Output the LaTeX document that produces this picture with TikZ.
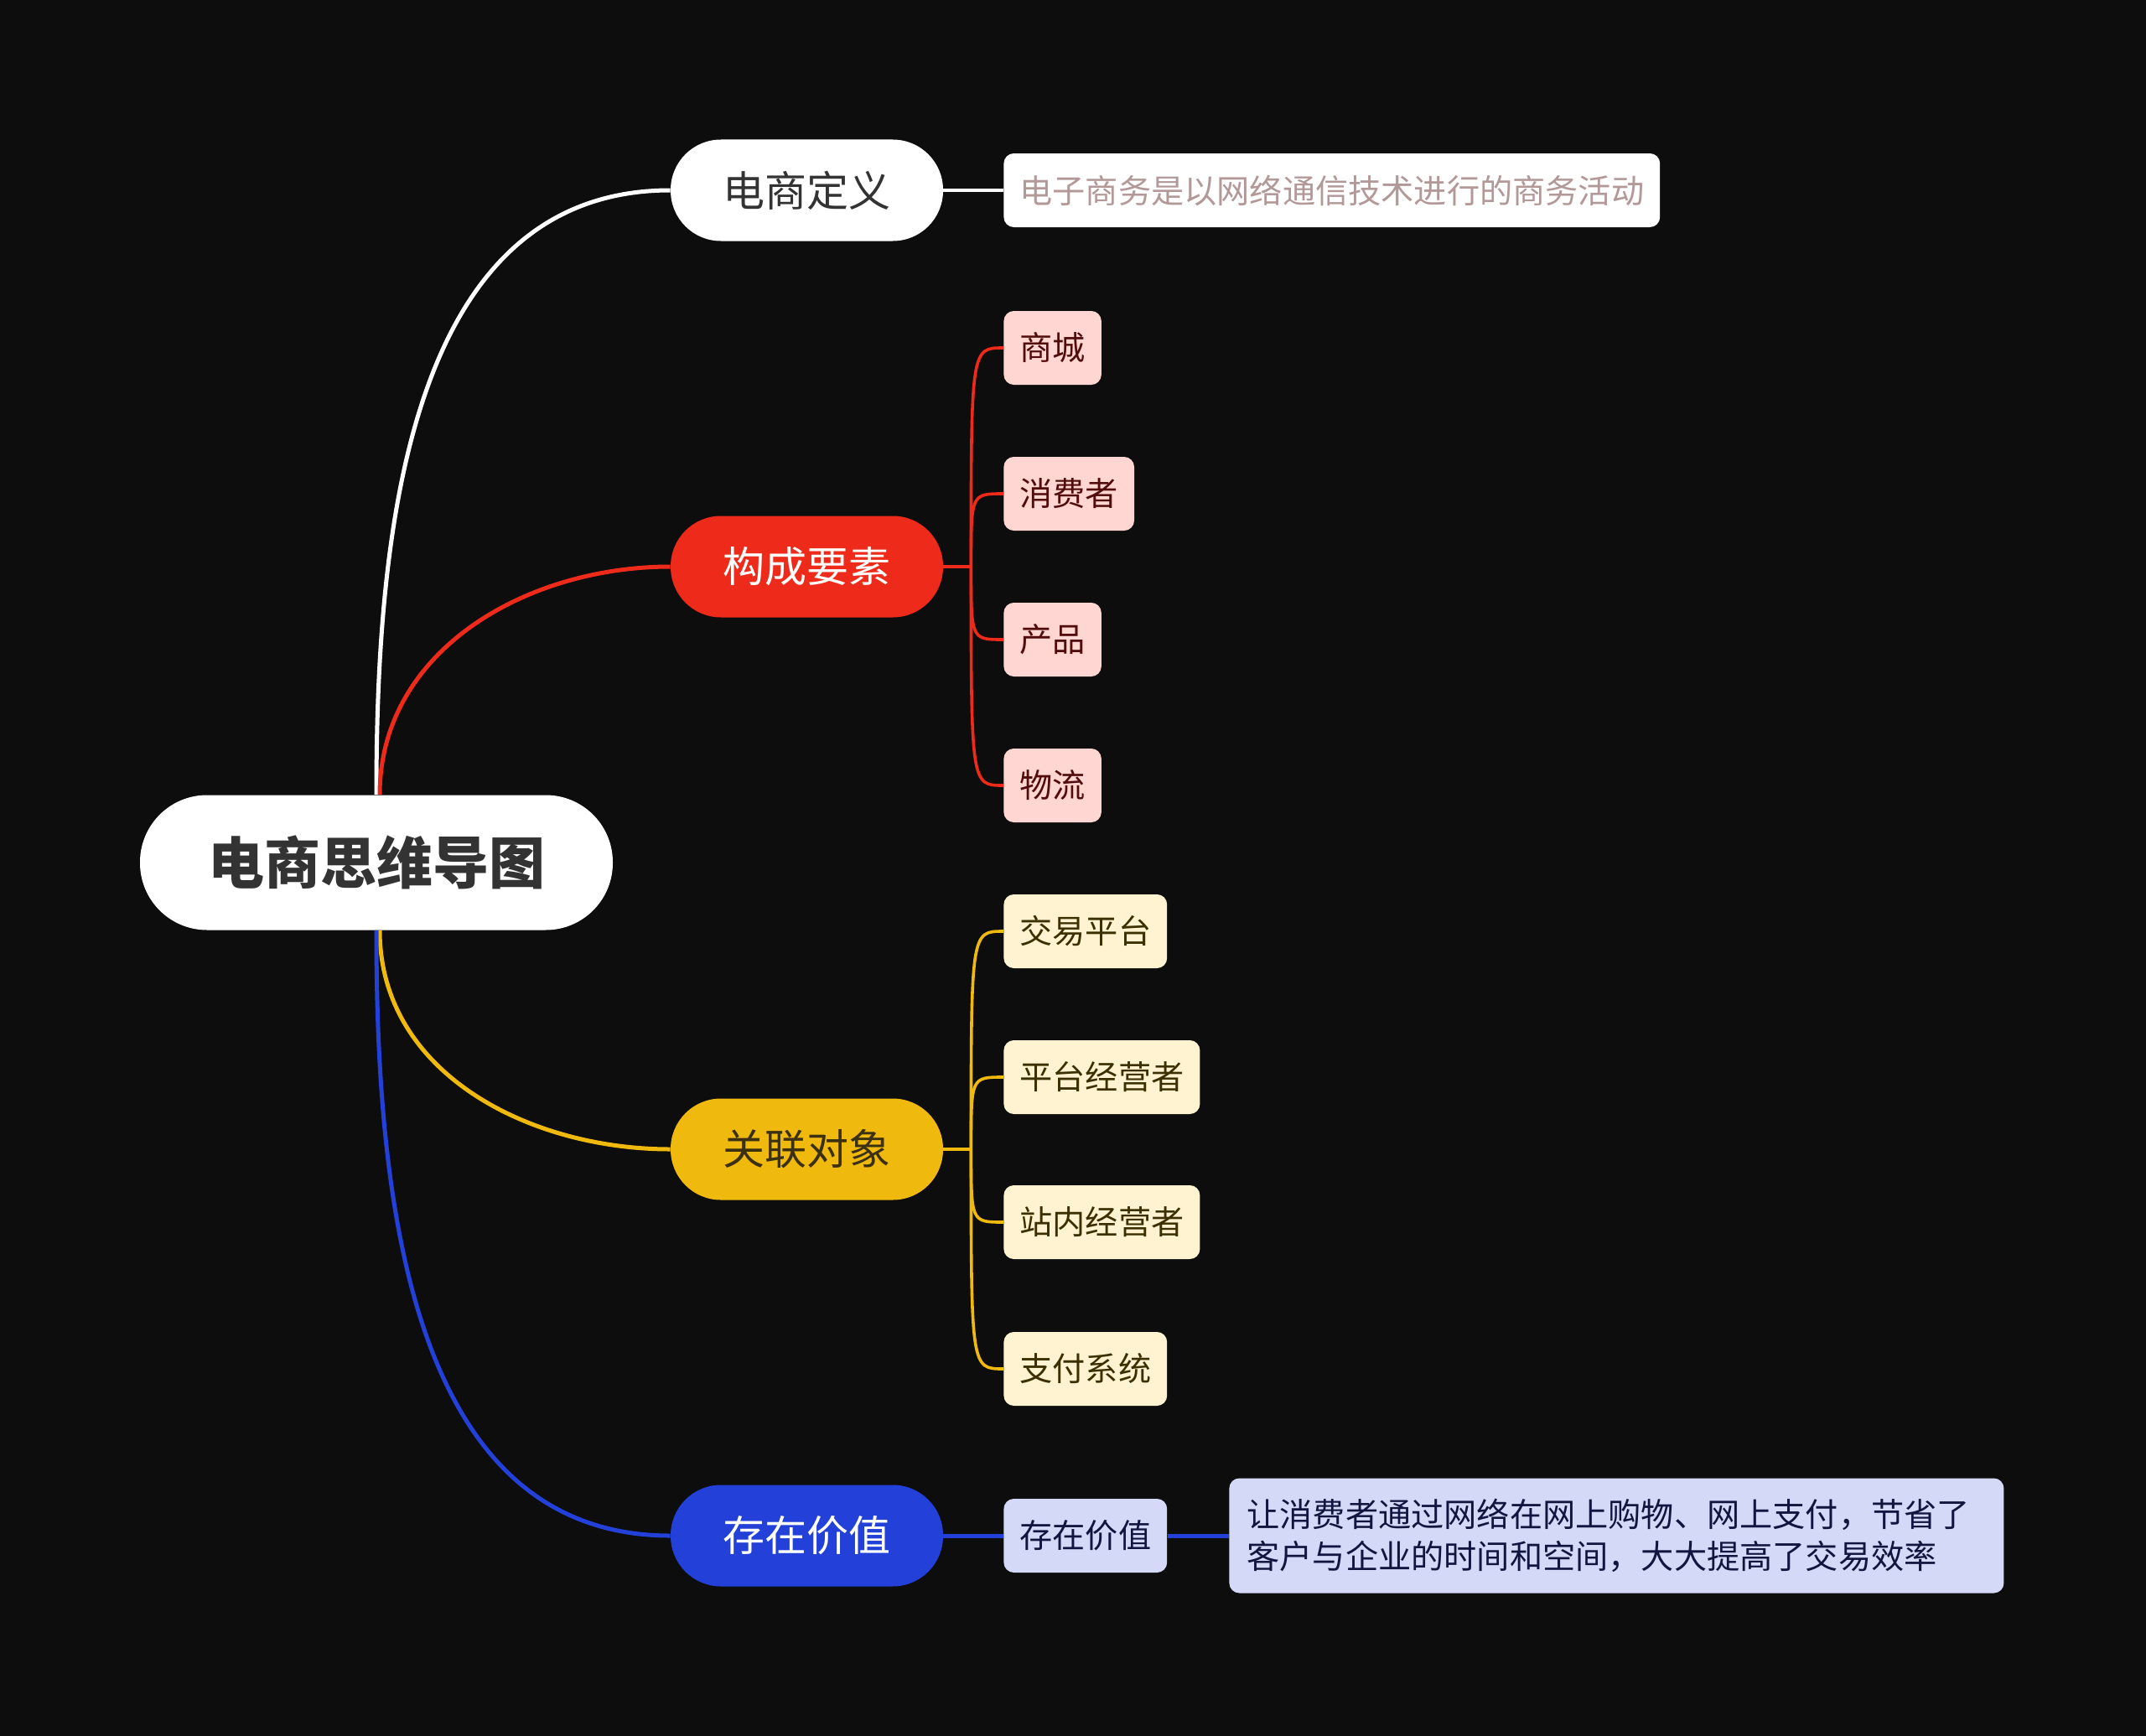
\documentclass[tikz,border=0pt]{standalone}
\usepackage{fontspec}
\setmainfont{Noto Sans CJK SC}
\usetikzlibrary{positioning,calc}
\definecolor{night}{HTML}{0D0D0D}
\definecolor{coal}{HTML}{333333}
\definecolor{scarlet}{HTML}{EE2A1A}
\definecolor{amber}{HTML}{F0B90E}
\definecolor{royal}{HTML}{2340D9}
\definecolor{umber}{HTML}{3B3010}
\definecolor{blush}{HTML}{FFD6D1}
\definecolor{wine}{HTML}{520C0C}
\definecolor{cream}{HTML}{FFF3D2}
\definecolor{olive}{HTML}{3D3000}
\definecolor{lilac}{HTML}{D4D9F7}
\definecolor{navy}{HTML}{10163F}
\definecolor{mauve}{HTML}{B39898}

\begin{document}
\begin{tikzpicture}[x=1pt,y=1pt,
    hub/.style={fill=white,text=coal,rounded corners=40pt,minimum width=282pt,
                minimum height=80.5pt,font=\fontsize{33.5}{40}\selectfont\bfseries},
    topic/.style={rounded corners=30pt,minimum width=162.5pt,minimum height=60.5pt,
                  font=\fontsize{25}{30}\selectfont},
    item/.style={rounded corners=6pt,minimum height=44pt,inner xsep=9.5pt,anchor=west,
                 font=\fontsize{19.6}{25.3}\selectfont},
    link/.style={line width=2.5pt},
    twig/.style={line width=1.8pt}]
  \fill[night] (0,0) rectangle (1280,-1035.5);

  % root and topics
  \node[hub] (root) at (224.5,-514.5) {电商思维导图};
  \node[topic,fill=white,text=coal] (t1) at (481.25,-113.5) {电商定义};
  \node[topic,fill=scarlet,text=white] (t2) at (481.25,-338) {构成要素};
  \node[topic,fill=amber,text=umber] (t3) at (481.25,-685.5) {关联对象};
  \node[topic,fill=royal,text=white] (t4) at (481.25,-916) {存在价值};

  % leaves
  \node[item,fill=white,text=mauve] (d1) at (598.5,-113.5) {电子商务是以网络通信技术进行的商务活动};

  \node[item,fill=blush,text=wine] (p1) at (598.5,-207.5) {商城};
  \node[item,fill=blush,text=wine] (p2) at (598.5,-294.5) {消费者};
  \node[item,fill=blush,text=wine] (p3) at (598.5,-381.5) {产品};
  \node[item,fill=blush,text=wine] (p4) at (598.5,-468.5) {物流};

  \node[item,fill=cream,text=olive] (y1) at (598.5,-555.5) {交易平台};
  \node[item,fill=cream,text=olive] (y2) at (598.5,-642.5) {平台经营者};
  \node[item,fill=cream,text=olive] (y3) at (598.5,-729) {站内经营者};
  \node[item,fill=cream,text=olive] (y4) at (598.5,-816.5) {支付系统};

  \node[item,fill=lilac,text=navy] (v1) at (598.5,-916) {存在价值};
  \node[item,fill=lilac,text=navy,text width=441pt,inner xsep=10.5pt,align=left,
        minimum height=68.5pt] (v2) at (733,-916)
    {让消费者通过网络在网上购物、网上支付，节省了\\客户与企业的时间和空间，大大提高了交易效率};

  % connectors
  \draw[link,white] (root.north) to[out=90,in=180] (t1.west);
  \draw[link,scarlet] ($(root.north)+(2,0)$) to[out=90,in=180] (t2.west);
  \draw[link,amber] ($(root.south)+(2,0)$) to[out=-90,in=180] (t3.west);
  \draw[link,royal] (root.south) to[out=-90,in=180] (t4.west);

  \draw[twig,white] (t1.east) -- (d1.west);

  \coordinate (j2) at ($(t2.east)+(16.5,0)$);
  \draw[twig,scarlet] (t2.east) -- (j2);
  \foreach \k in {1,...,4}
    \draw[twig,scarlet] (j2) .. controls (j2 |- p\k.west) .. (p\k.west);

  \coordinate (j3) at ($(t3.east)+(16.5,0)$);
  \draw[twig,amber] (t3.east) -- (j3);
  \foreach \k in {1,...,4}
    \draw[twig,amber] (j3) .. controls (j3 |- y\k.west) .. (y\k.west);

  \draw[link,royal] (t4.east) -- (v1.west);
  \draw[link,royal] (v1.east) -- (v2.west);
\end{tikzpicture}
\end{document}
